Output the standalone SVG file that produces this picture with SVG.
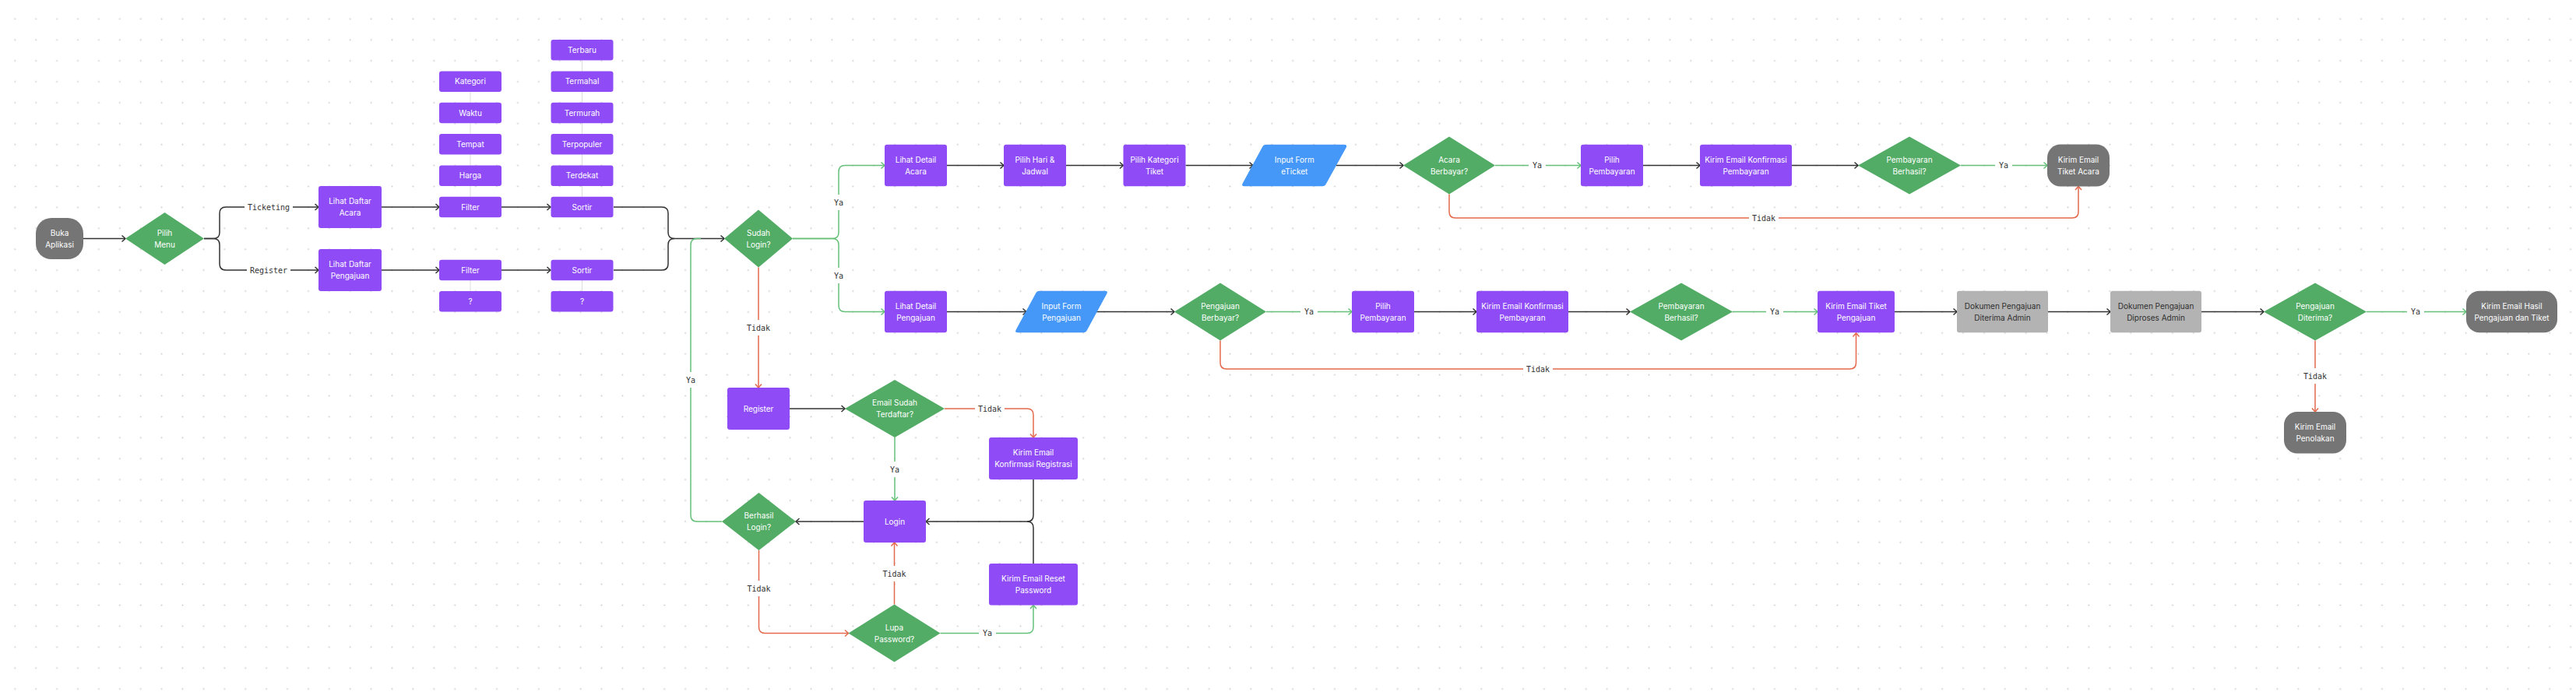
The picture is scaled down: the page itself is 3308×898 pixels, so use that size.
<svg xmlns="http://www.w3.org/2000/svg" width="3308" height="898" viewBox="0 0 3308 898">
<style>
.np{fill:#8f4cf6}
.ng{fill:#52ac65}
.nb{fill:#4598f8}
.nt{fill:#757575}
.nl{fill:#b3b3b3}
.t{font-family:Inter,'Noto Sans','DejaVu Sans',sans-serif;font-size:10px;fill:#ffffff;text-anchor:middle}
.td{fill:#2e2e2e}
.c{fill:none;stroke:#333333;stroke-width:1.5}
.cg{stroke:#66c079}
.cr{stroke:#e5694c}
.cl{fill:none;stroke:#dddddd;stroke-width:1}
.lr{fill:#ffffff}
.lt{font-family:'DejaVu Sans Mono','Liberation Mono',monospace;font-size:10px;fill:#333333;text-anchor:middle}
</style>
<defs>
<pattern id="dots" x="5.85" y="10.85" width="26.9" height="26.9" patternUnits="userSpaceOnUse">
<circle cx="13.45" cy="13.45" r="1" fill="#cccccc"/>
</pattern>
<marker id="ak" markerUnits="userSpaceOnUse" markerWidth="10" markerHeight="12" refX="6" refY="5" orient="auto" overflow="visible"><path d="M1.5,1 L6,5 L1.5,9" fill="none" stroke="#333333" stroke-width="1.5"/></marker>
<marker id="ag" markerUnits="userSpaceOnUse" markerWidth="10" markerHeight="12" refX="6" refY="5" orient="auto" overflow="visible"><path d="M1.5,1 L6,5 L1.5,9" fill="none" stroke="#66c079" stroke-width="1.5"/></marker>
<marker id="ar" markerUnits="userSpaceOnUse" markerWidth="10" markerHeight="12" refX="6" refY="5" orient="auto" overflow="visible"><path d="M1.5,1 L6,5 L1.5,9" fill="none" stroke="#e5694c" stroke-width="1.5"/></marker>
</defs>
<rect width="3308" height="898" fill="#ffffff"/>
<rect width="3308" height="898" fill="url(#dots)"/>

<g id="connectors">
<!-- light stack lines -->
<path class="cl" d="M604,118 V253 M747.5,78 V253 M604,360 V374 M747.5,360 V374"/>
<!-- start -->
<path class="c" d="M107,306.5 H161" marker-end="url(#ak)"/>
<path class="c" d="M262,306.5 H274 Q282,306.5 282,298.5 V274 Q282,266 290,266 H409" marker-end="url(#ak)"/>
<path class="c" d="M262,306.5 H274 Q282,306.5 282,314.5 V339 Q282,347 290,347 H409" marker-end="url(#ak)"/>
<rect class="lr" x="314" y="258" width="62" height="16"/><text class="lt" x="345" y="269.5">Ticketing</text>
<rect class="lr" x="317" y="339" width="56" height="16"/><text class="lt" x="345" y="350.5">Register</text>
<path class="c" d="M490,266 H564" marker-end="url(#ak)"/>
<path class="c" d="M644,266 H707" marker-end="url(#ak)"/>
<path class="c" d="M490,347 H564" marker-end="url(#ak)"/>
<path class="c" d="M644,347 H707" marker-end="url(#ak)"/>
<path class="c" d="M788,266 H850 Q858,266 858,274 V298.5 Q858,306.5 866,306.5 H930" marker-end="url(#ak)"/>
<path class="c" d="M788,347 H850 Q858,347 858,339 V314.5 Q858,306.5 866,306.5"/>
<!-- Berhasil login Ya -->
<path class="c cg" d="M927,670 H895 Q887,670 887,662 V314.5 Q887,306.5 895,306.5 H900"/>
<rect class="lr" x="877" y="478" width="20" height="20"/><text class="lt" x="887" y="491.5">Ya</text>
<!-- Sudah login branches -->
<path class="c cg" d="M1018,306.5 H1069 Q1077,306.5 1077,298.5 V220.5 Q1077,212.5 1085,212.5 H1136" marker-end="url(#ag)"/>
<path class="c cg" d="M1018,306.5 H1069 Q1077,306.5 1077,314.5 V392.5 Q1077,400.5 1085,400.5 H1136" marker-end="url(#ag)"/>
<rect class="lr" x="1067" y="250" width="20" height="20"/><text class="lt" x="1077" y="263.5">Ya</text>
<rect class="lr" x="1067" y="344" width="20" height="20"/><text class="lt" x="1077" y="357.5">Ya</text>
<!-- top row -->
<path class="c" d="M1216,212.5 H1289" marker-end="url(#ak)"/>
<path class="c" d="M1369,212.5 H1442.5" marker-end="url(#ak)"/>
<path class="c" d="M1522.5,212.5 H1609" marker-end="url(#ak)"/>
<path class="c" d="M1715.5,212.5 H1802" marker-end="url(#ak)"/>
<path class="c cg" d="M1920,212.5 H2030" marker-end="url(#ag)"/>
<rect class="lr" x="1963" y="204" width="22" height="17"/><text class="lt" x="1974" y="216">Ya</text>
<path class="c" d="M2110,212.5 H2183" marker-end="url(#ak)"/>
<path class="c" d="M2301,212.5 H2386" marker-end="url(#ak)"/>
<path class="c cg" d="M2518,212.5 H2629" marker-end="url(#ag)"/>
<rect class="lr" x="2562" y="204" width="22" height="17"/><text class="lt" x="2573" y="216">Ya</text>
<path class="c cr" d="M1861,249.5 V272 Q1861,280 1869,280 H2661 Q2669,280 2669,272 V239.5" marker-end="url(#ar)"/>
<rect class="lr" x="2246" y="272" width="38" height="17"/><text class="lt" x="2265" y="283.5">Tidak</text>
<!-- bottom row -->
<path class="c" d="M1216,400.5 H1318" marker-end="url(#ak)"/>
<path class="c" d="M1408,400.5 H1508" marker-end="url(#ak)"/>
<path class="c cg" d="M1626,400.5 H1736" marker-end="url(#ag)"/>
<rect class="lr" x="1670" y="392" width="22" height="17"/><text class="lt" x="1681" y="404">Ya</text>
<path class="c" d="M1816,400.5 H1896" marker-end="url(#ak)"/>
<path class="c" d="M2014,400.5 H2093" marker-end="url(#ak)"/>
<path class="c cg" d="M2225,400.5 H2334" marker-end="url(#ag)"/>
<rect class="lr" x="2268" y="392" width="22" height="17"/><text class="lt" x="2279" y="404">Ya</text>
<path class="c" d="M2433,400.5 H2513" marker-end="url(#ak)"/>
<path class="c" d="M2630,400.5 H2710" marker-end="url(#ak)"/>
<path class="c" d="M2827,400.5 H2907" marker-end="url(#ak)"/>
<path class="c cg" d="M3039,400.5 H3167" marker-end="url(#ag)"/>
<rect class="lr" x="3091" y="392" width="22" height="17"/><text class="lt" x="3102" y="404">Ya</text>
<path class="c cr" d="M1567,437.5 V466 Q1567,474 1575,474 H2375.5 Q2383.5,474 2383.5,466 V428" marker-end="url(#ar)"/>
<rect class="lr" x="1956" y="466" width="38" height="17"/><text class="lt" x="1975" y="477.5">Tidak</text>
<path class="c cr" d="M2973,437.5 V529" marker-end="url(#ar)"/>
<rect class="lr" x="2954" y="473" width="38" height="20"/><text class="lt" x="2973" y="486.5">Tidak</text>
<!-- login area -->
<path class="c cr" d="M974,343.5 V498" marker-end="url(#ar)"/>
<rect class="lr" x="955" y="411" width="38" height="20"/><text class="lt" x="974" y="424.5">Tidak</text>
<path class="c" d="M1014,525 H1085" marker-end="url(#ak)"/>
<path class="c cr" d="M1213,525 H1319 Q1327,525 1327,533 V562" marker-end="url(#ar)"/>
<rect class="lr" x="1252" y="517" width="38" height="17"/><text class="lt" x="1271" y="528.5">Tidak</text>
<path class="c cg" d="M1149,562 V643" marker-end="url(#ag)"/>
<rect class="lr" x="1139" y="593" width="20" height="20"/><text class="lt" x="1149" y="606.5">Ya</text>
<path class="c" d="M1109,670 H1022" marker-end="url(#ak)"/>
<path class="c" d="M1327,616 V662 Q1327,670 1319,670 H1189" marker-end="url(#ak)"/>
<path class="c" d="M1327,724 V678 Q1327,670 1319,670"/>
<path class="c cr" d="M974.5,707 V805.5 Q974.5,813.5 982.5,813.5 H1089.5" marker-end="url(#ar)"/>
<rect class="lr" x="955.5" y="746" width="38" height="20"/><text class="lt" x="974.5" y="759.5">Tidak</text>
<path class="c cr" d="M1148.5,776.5 V697" marker-end="url(#ar)"/>
<rect class="lr" x="1129.5" y="727" width="38" height="20"/><text class="lt" x="1148.5" y="740.5">Tidak</text>
<path class="c cg" d="M1207.5,813.5 H1319 Q1327,813.5 1327,805.5 V777.5" marker-end="url(#ag)"/>
<rect class="lr" x="1257" y="805" width="22" height="17"/><text class="lt" x="1268" y="817">Ya</text>
</g>

<g id="n-buka"><rect class="nt" x="46" y="280" width="61" height="53" rx="20"/><text class="t" x="76.5" y="302.6">Buka</text><text class="t" x="76.5" y="317.6">Aplikasi</text></g>
<g id="n-pilih-menu"><polygon class="ng" points="211.5,273 262,306.5 211.5,340 161,306.5"/><text class="t" x="211.5" y="302.6">Pilih</text><text class="t" x="211.5" y="317.6">Menu</text></g>
<g id="n-daftar-acara"><rect class="np" x="409" y="239" width="81" height="54" rx="3"/><text class="t" x="449.5" y="262.1">Lihat Daftar</text><text class="t" x="449.5" y="277.1">Acara</text></g>
<g id="n-daftar-pengajuan"><rect class="np" x="409" y="320" width="81" height="54" rx="3"/><text class="t" x="449.5" y="343.1">Lihat Daftar</text><text class="t" x="449.5" y="358.1">Pengajuan</text></g>

<g id="n-kategori"><rect class="np" x="564" y="91.4" width="80" height="26.5" rx="3"/><text class="t" x="604" y="108.3">Kategori</text></g>
<g id="n-waktu"><rect class="np" x="564" y="131.75" width="80" height="26.5" rx="3"/><text class="t" x="604" y="148.6">Waktu</text></g>
<g id="n-tempat"><rect class="np" x="564" y="172.1" width="80" height="26.5" rx="3"/><text class="t" x="604" y="188.9">Tempat</text></g>
<g id="n-harga"><rect class="np" x="564" y="212.4" width="80" height="26.5" rx="3"/><text class="t" x="604" y="229.3">Harga</text></g>
<g id="n-filter1"><rect class="np" x="564" y="252.75" width="80" height="26.5" rx="3"/><text class="t" x="604" y="269.6">Filter</text></g>
<g id="n-terbaru"><rect class="np" x="707.5" y="51.1" width="80" height="26.5" rx="3"/><text class="t" x="747.5" y="67.9">Terbaru</text></g>
<g id="n-termahal"><rect class="np" x="707.5" y="91.4" width="80" height="26.5" rx="3"/><text class="t" x="747.5" y="108.3">Termahal</text></g>
<g id="n-termurah"><rect class="np" x="707.5" y="131.75" width="80" height="26.5" rx="3"/><text class="t" x="747.5" y="148.6">Termurah</text></g>
<g id="n-terpopuler"><rect class="np" x="707.5" y="172.1" width="80" height="26.5" rx="3"/><text class="t" x="747.5" y="188.9">Terpopuler</text></g>
<g id="n-terdekat"><rect class="np" x="707.5" y="212.4" width="80" height="26.5" rx="3"/><text class="t" x="747.5" y="229.3">Terdekat</text></g>
<g id="n-sortir1"><rect class="np" x="707.5" y="252.75" width="80" height="26.5" rx="3"/><text class="t" x="747.5" y="269.6">Sortir</text></g>
<g id="n-filter2"><rect class="np" x="564" y="333.75" width="80" height="26.5" rx="3"/><text class="t" x="604" y="350.6">Filter</text></g>
<g id="n-sortir2"><rect class="np" x="707.5" y="333.75" width="80" height="26.5" rx="3"/><text class="t" x="747.5" y="350.6">Sortir</text></g>
<g id="n-q1"><rect class="np" x="564" y="374.1" width="80" height="26.5" rx="3"/><text class="t" x="604" y="390.9">?</text></g>
<g id="n-q2"><rect class="np" x="707.5" y="374.1" width="80" height="26.5" rx="3"/><text class="t" x="747.5" y="390.9">?</text></g>

<g id="n-sudah-login"><polygon class="ng" points="974,269.5 1018,306.5 974,343.5 930,306.5"/><text class="t" x="974" y="302.6">Sudah</text><text class="t" x="974" y="317.6">Login?</text></g>

<g id="n-detail-acara"><rect class="np" x="1136" y="185.75" width="80" height="53.5" rx="3"/><text class="t" x="1176" y="208.6">Lihat Detail</text><text class="t" x="1176" y="223.6">Acara</text></g>
<g id="n-hari"><rect class="np" x="1289" y="185.75" width="80" height="53.5" rx="3"/><text class="t" x="1329" y="208.6">Pilih Hari &amp;</text><text class="t" x="1329" y="223.6">Jadwal</text></g>
<g id="n-kategori-tiket"><rect class="np" x="1442.5" y="185.75" width="80" height="53.5" rx="3"/><text class="t" x="1482.5" y="208.6">Pilih Kategori</text><text class="t" x="1482.5" y="223.6">Tiket</text></g>
<g id="n-form-eticket"><path class="nb" d="M1626,185.75 H1726 Q1730,185.75 1729,189 L1703,236 Q1701.5,239.25 1698,239.25 H1598 Q1594,239.25 1595.5,236 L1621,189 Q1622.5,185.75 1626,185.75 Z"/><text class="t" x="1662.3" y="208.6">Input Form</text><text class="t" x="1662.3" y="223.6">eTicket</text></g>
<g id="n-acara-berbayar"><polygon class="ng" points="1861,175.5 1920,212.5 1861,249.5 1802,212.5"/><text class="t" x="1861" y="208.6">Acara</text><text class="t" x="1861" y="223.6">Berbayar?</text></g>
<g id="n-pembayaran1"><rect class="np" x="2030" y="185.75" width="80" height="53.5" rx="3"/><text class="t" x="2070" y="208.6">Pilih</text><text class="t" x="2070" y="223.6">Pembayaran</text></g>
<g id="n-konfirmasi1"><rect class="np" x="2183" y="185.75" width="118" height="53.5" rx="3"/><text class="t" x="2242" y="208.6">Kirim Email Konfirmasi</text><text class="t" x="2242" y="223.6">Pembayaran</text></g>
<g id="n-berhasil1"><polygon class="ng" points="2452,175.5 2518,212.5 2452,249.5 2386,212.5"/><text class="t" x="2452" y="208.6">Pembayaran</text><text class="t" x="2452" y="223.6">Berhasil?</text></g>
<g id="n-tiket-acara"><rect class="nt" x="2629" y="185.5" width="80" height="54" rx="17"/><text class="t" x="2669" y="208.6">Kirim Email</text><text class="t" x="2669" y="223.6">Tiket Acara</text></g>

<g id="n-detail-pengajuan"><rect class="np" x="1136" y="373.75" width="80" height="53.5" rx="3"/><text class="t" x="1176" y="396.6">Lihat Detail</text><text class="t" x="1176" y="411.6">Pengajuan</text></g>
<g id="n-form-pengajuan"><path class="nb" d="M1335,373.75 H1419 Q1423,373.75 1421.5,377 L1396,424 Q1394.5,427.25 1391,427.25 H1307 Q1303,427.25 1304.5,424 L1330,377 Q1331.5,373.75 1335,373.75 Z"/><text class="t" x="1363" y="396.6">Input Form</text><text class="t" x="1363" y="411.6">Pengajuan</text></g>
<g id="n-pengajuan-berbayar"><polygon class="ng" points="1567,363.5 1626,400.5 1567,437.5 1508,400.5"/><text class="t" x="1567" y="396.6">Pengajuan</text><text class="t" x="1567" y="411.6">Berbayar?</text></g>
<g id="n-pembayaran2"><rect class="np" x="1736" y="373.75" width="80" height="53.5" rx="3"/><text class="t" x="1776" y="396.6">Pilih</text><text class="t" x="1776" y="411.6">Pembayaran</text></g>
<g id="n-konfirmasi2"><rect class="np" x="1896" y="373.75" width="118" height="53.5" rx="3"/><text class="t" x="1955" y="396.6">Kirim Email Konfirmasi</text><text class="t" x="1955" y="411.6">Pembayaran</text></g>
<g id="n-berhasil2"><polygon class="ng" points="2159,363.5 2225,400.5 2159,437.5 2093,400.5"/><text class="t" x="2159" y="396.6">Pembayaran</text><text class="t" x="2159" y="411.6">Berhasil?</text></g>
<g id="n-tiket-pengajuan"><rect class="np" x="2334" y="373.75" width="99" height="53.5" rx="3"/><text class="t" x="2383.5" y="396.6">Kirim Email Tiket</text><text class="t" x="2383.5" y="411.6">Pengajuan</text></g>
<g id="n-diterima-admin"><rect class="nl" x="2513" y="373.75" width="117" height="53.5" rx="3"/><text class="t td" x="2571.5" y="396.6">Dokumen Pengajuan</text><text class="t td" x="2571.5" y="411.6">Diterima Admin</text></g>
<g id="n-diproses-admin"><rect class="nl" x="2710" y="373.75" width="117" height="53.5" rx="3"/><text class="t td" x="2768.5" y="396.6">Dokumen Pengajuan</text><text class="t td" x="2768.5" y="411.6">Diproses Admin</text></g>
<g id="n-pengajuan-diterima"><polygon class="ng" points="2973,363.5 3039,400.5 2973,437.5 2907,400.5"/><text class="t" x="2973" y="396.6">Pengajuan</text><text class="t" x="2973" y="411.6">Diterima?</text></g>
<g id="n-hasil"><rect class="nt" x="3167" y="373.75" width="117" height="53.5" rx="17"/><text class="t" x="3225.5" y="396.6">Kirim Email Hasil</text><text class="t" x="3225.5" y="411.6">Pengajuan dan Tiket</text></g>
<g id="n-penolakan"><rect class="nt" x="2933" y="529" width="80" height="53.5" rx="17"/><text class="t" x="2973" y="551.9">Kirim Email</text><text class="t" x="2973" y="566.9">Penolakan</text></g>

<g id="n-register"><rect class="np" x="934" y="498" width="80" height="54" rx="3"/><text class="t" x="974" y="528.6">Register</text></g>
<g id="n-email-terdaftar"><polygon class="ng" points="1149,488 1213,525 1149,562 1085,525"/><text class="t" x="1149" y="521.1">Email Sudah</text><text class="t" x="1149" y="536.1">Terdaftar?</text></g>
<g id="n-konfirmasi-registrasi"><rect class="np" x="1270" y="562" width="114" height="54" rx="3"/><text class="t" x="1327" y="585.1">Kirim Email</text><text class="t" x="1327" y="600.1">Konfirmasi Registrasi</text></g>
<g id="n-login"><rect class="np" x="1109" y="643" width="80" height="54" rx="3"/><text class="t" x="1149" y="673.6">Login</text></g>
<g id="n-berhasil-login"><polygon class="ng" points="974.5,633 1022,670 974.5,707 927,670"/><text class="t" x="974.5" y="666.1">Berhasil</text><text class="t" x="974.5" y="681.1">Login?</text></g>
<g id="n-reset"><rect class="np" x="1270" y="724" width="114" height="53.5" rx="3"/><text class="t" x="1327" y="746.9">Kirim Email Reset</text><text class="t" x="1327" y="761.9">Password</text></g>
<g id="n-lupa"><polygon class="ng" points="1148.5,776.5 1207.5,813.5 1148.5,850.5 1089.5,813.5"/><text class="t" x="1148.5" y="809.6">Lupa</text><text class="t" x="1148.5" y="824.6">Password?</text></g>
</svg>
